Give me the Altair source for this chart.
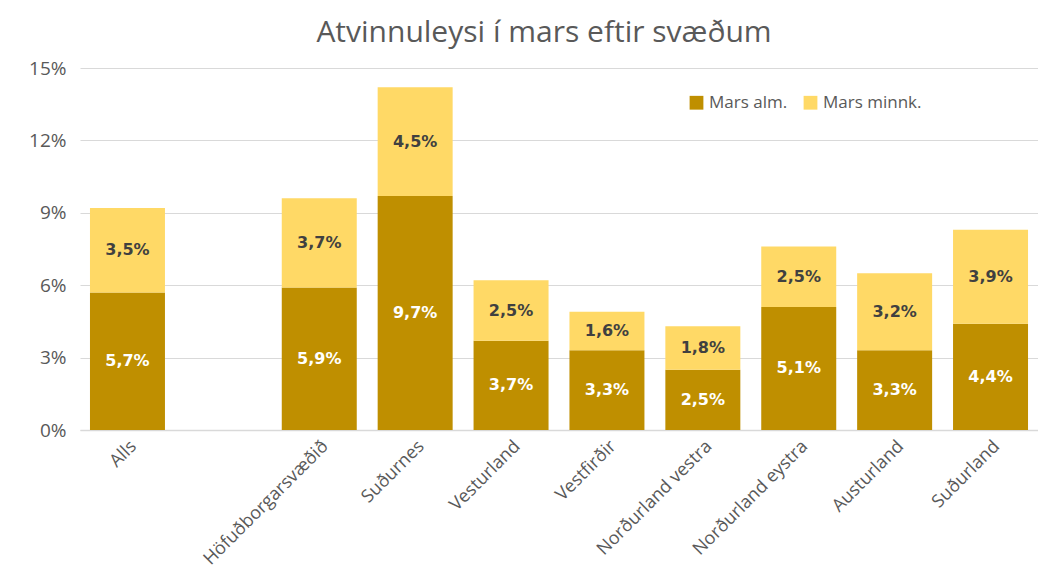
import altair as alt
import pandas as pd

slots = ["Alls", " ", "Höfuðborgarsvæðið", "Suðurnes", "Vesturland", "Vestfirðir",
         "Norðurland vestra", "Norðurland eystra", "Austurland", "Suðurland"]
regions = ["Alls", "Höfuðborgarsvæðið", "Suðurnes", "Vesturland", "Vestfirðir",
           "Norðurland vestra", "Norðurland eystra", "Austurland", "Suðurland"]
mars_alm = [5.7, 5.9, 9.7, 3.7, 3.3, 2.5, 5.1, 3.3, 4.4]
mars_minnk = [3.5, 3.7, 4.5, 2.5, 1.6, 1.8, 2.5, 3.2, 3.9]
series = ["Mars alm.", "Mars minnk."]
colors = ["#BF8F00", "#FFD966"]
label_colors = ["#FFFFFF", "#404040"]
y_ticks = [0, 3, 6, 9, 12, 15]

rows = []
for i, r in enumerate(regions):
    rows.append({"region": r, "series": series[0], "value": mars_alm[i], "ord": 0})
    rows.append({"region": r, "series": series[1], "value": mars_minnk[i], "ord": 1})
df = pd.DataFrame(rows)

FONT = "Open Sans"
GRAY = "#595959"
xscale = alt.Scale(domain=slots, paddingInner=0.218, paddingOuter=0.104)

x = alt.X("region:N", scale=xscale,
          axis=alt.Axis(title=None, labelAngle=-45, labelFontSize=18, labelColor=GRAY,
                        labelFont=FONT, ticks=False, domainColor="#d9d9d9", domainWidth=1.5,
                        labelPadding=7))

base = alt.Chart(df).transform_stack(
    stack="value", groupby=["region"], as_=["y0", "y1"], sort=[alt.SortField("ord")]
)

bars = base.mark_bar().encode(
    x=x,
    y=alt.Y("y0:Q", scale=alt.Scale(domain=[0, 15], nice=False),
            axis=alt.Axis(title=None, values=y_ticks, labelExpr="datum.value + '%'",
                          labelFontSize=19, labelColor=GRAY, labelFont=FONT, ticks=False,
                          domain=False, gridColor="#d9d9d9", gridWidth=1.2, labelPadding=14)),
    y2="y1:Q",
    color=alt.Color("series:N", scale=alt.Scale(domain=series, range=colors),
                    legend=alt.Legend(title=None, orient="none", legendX=608, legendY=26,
                                      direction="horizontal", symbolType="square",
                                      symbolSize=190, labelFontSize=17, labelColor=GRAY,
                                      labelFont=FONT, columnPadding=14, padding=0,
                                      symbolStrokeWidth=0)),
)

labels = base.transform_calculate(
    mid="(datum.y0 + datum.y1) / 2",
    txt="replace(format(datum.value, '.1f'), '.', ',') + '%'",
).mark_text(fontSize=16, fontWeight="bold", font="DejaVu Sans").encode(
    x=alt.X("region:N", scale=xscale),
    y="mid:Q",
    text="txt:N",
    color=alt.Color("series:N", scale=alt.Scale(domain=series, range=label_colors), legend=None),
)

chart = alt.layer(bars, labels).resolve_scale(color="independent").properties(
    width=958, height=362,
    autosize=alt.AutoSizeParams(type="none"),
    padding={"left": 72, "top": 60, "right": 0, "bottom": 142},
    title=alt.TitleParams("Atvinnuleysi í mars eftir svæðum", fontSize=30, font=FONT,
                          color=GRAY, fontWeight="normal", anchor="middle", dx=-15, offset=11),
).configure_view(stroke=None)

chart.save("out.html", embed_options={"renderer": "svg", "actions": False})
